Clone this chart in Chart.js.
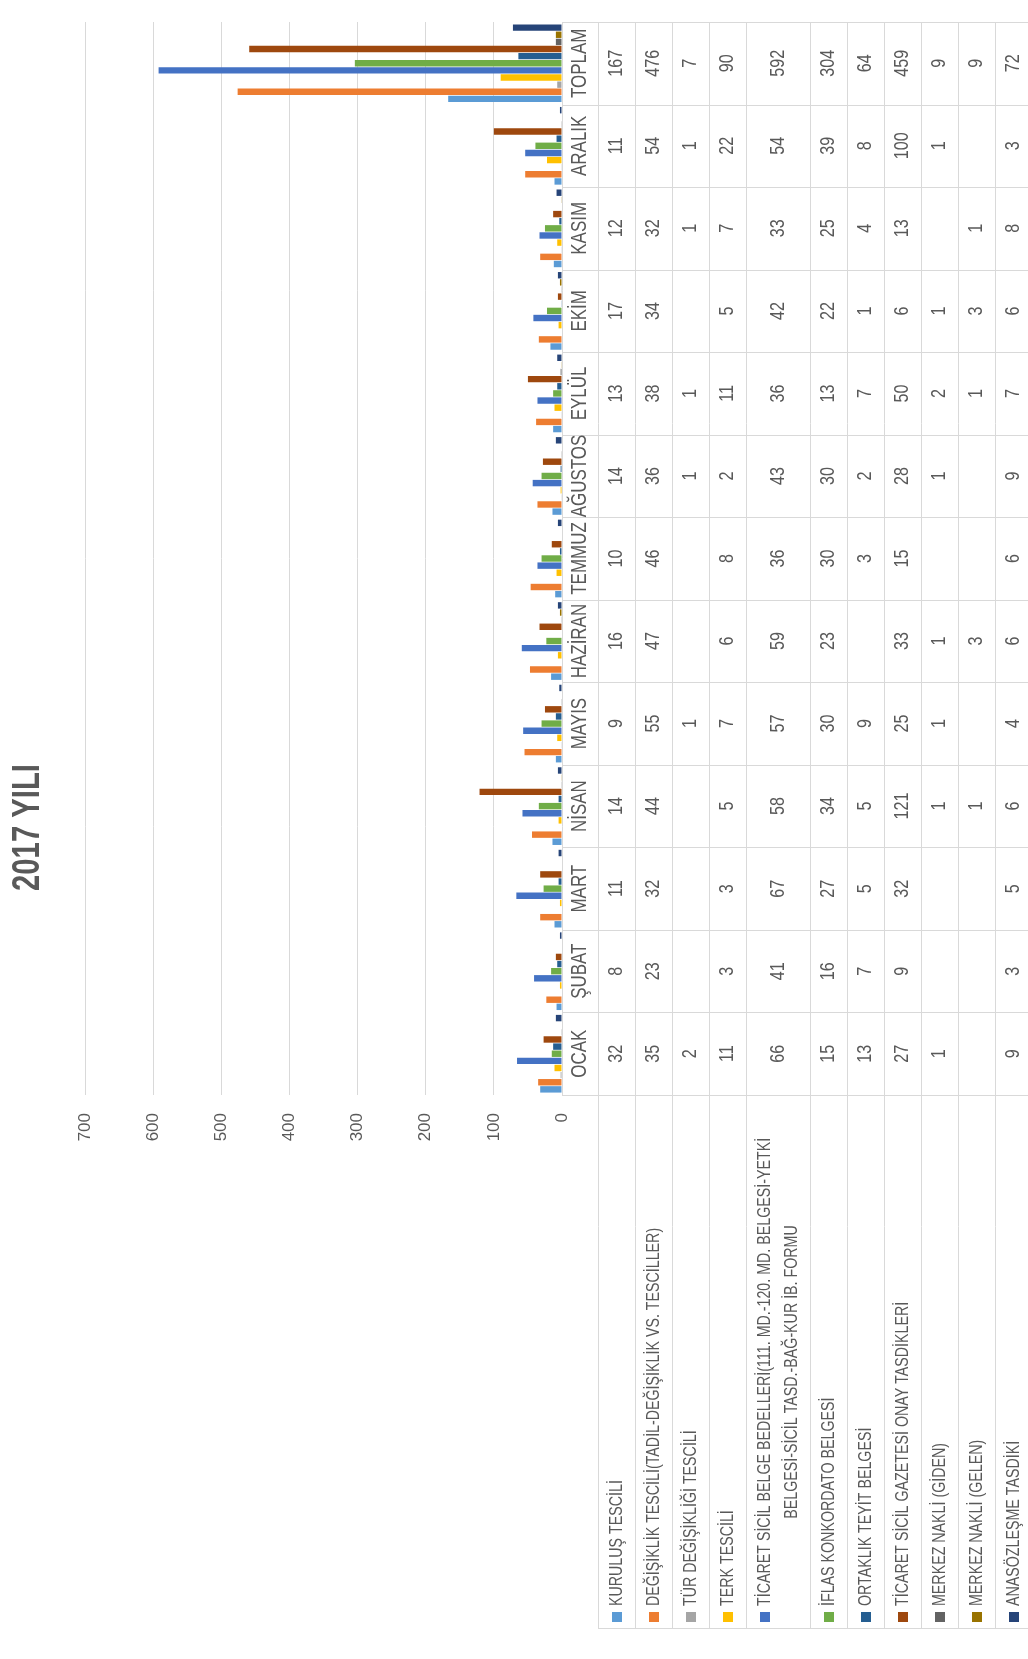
<!DOCTYPE html>
<html>
<head>
<meta charset="utf-8">
<script src="https://cdn.jsdelivr.net/npm/chart.js@4.4.0/dist/chart.umd.min.js"></script>
<style>
html,body{margin:0;padding:0;background:#fff;}
#wrap{width:1028px;height:1659px;position:relative;overflow:hidden;}
</style>
</head>
<body>
<div id="wrap"><canvas id="c"></canvas></div>
<script>
const titleText = '2017 YILI';
const categories = ['OCAK','ŞUBAT','MART','NİSAN','MAYIS','HAZİRAN','TEMMUZ','AĞUSTOS','EYLÜL','EKİM','KASIM','ARALIK','TOPLAM'];
const seriesNames = [
  ['KURULUŞ TESCİLİ'],
  ['DEĞİŞİKLİK TESCİLİ(TADİL-DEĞİŞİKLİK VS. TESCİLLER)'],
  ['TÜR DEĞİŞİKLİĞİ TESCİLİ'],
  ['TERK TESCİLİ'],
  ['TİCARET SİCİL BELGE BEDELLERİ(111. MD.-120. MD. BELGESİ-YETKİ', 'BELGESİ-SİCİL TASD.-BAĞ-KUR İB. FORMU'],
  ['İFLAS KONKORDATO BELGESİ'],
  ['ORTAKLIK TEYİT BELGESİ'],
  ['TİCARET SİCİL GAZETESİ ONAY TASDİKLERİ'],
  ['MERKEZ NAKLİ (GİDEN)'],
  ['MERKEZ NAKLİ (GELEN)'],
  ['ANASÖZLEŞME TASDİKİ']
];
const kurulusTescili      = [32, 8, 11, 14, 9, 16, 10, 14, 13, 17, 12, 11, 167];
const degisiklikTescili   = [35, 23, 32, 44, 55, 47, 46, 36, 38, 34, 32, 54, 476];
const turDegisikligi      = [2, null, null, null, 1, null, null, 1, 1, null, 1, 1, 7];
const terkTescili         = [11, 3, 3, 5, 7, 6, 8, 2, 11, 5, 7, 22, 90];
const sicilBelgeBedelleri = [66, 41, 67, 58, 57, 59, 36, 43, 36, 42, 33, 54, 592];
const iflasKonkordato     = [15, 16, 27, 34, 30, 23, 30, 30, 13, 22, 25, 39, 304];
const ortaklikTeyit       = [13, 7, 5, 5, 9, null, 3, 2, 7, 1, 4, 8, 64];
const gazeteOnayTasdik    = [27, 9, 32, 121, 25, 33, 15, 28, 50, 6, 13, 100, 459];
const merkezNakliGiden    = [1, null, null, 1, 1, 1, null, 1, 2, 1, null, 1, 9];
const merkezNakliGelen    = [null, null, null, 1, null, 3, null, null, 1, 3, 1, null, 9];
const anasozlesmeTasdiki  = [9, 3, 5, 6, 4, 6, 6, 9, 7, 6, 8, 3, 72];
const seriesValues = [kurulusTescili, degisiklikTescili, turDegisikligi, terkTescili, sicilBelgeBedelleri,
  iflasKonkordato, ortaklikTeyit, gazeteOnayTasdik, merkezNakliGiden, merkezNakliGelen, anasozlesmeTasdiki];
const seriesColors = ['#5B9BD5','#ED7D31','#A5A5A5','#FFC000','#4472C4','#70AD47','#255E91','#9E480E','#636363','#997300','#264478'];

const FONT = "'Liberation Sans', Arial, sans-serif";
const TEXT = '#595959';
const LINE = '#D9D9D9';
const COMP = 0.77;

function rotText(ctx, text, x, y, size, align, bold) {
  ctx.save();
  ctx.translate(x, y);
  ctx.rotate(-Math.PI / 2);
  ctx.scale(COMP, 1);
  ctx.font = (bold ? 'bold ' : '') + size + 'px ' + FONT;
  ctx.fillStyle = TEXT;
  ctx.textAlign = align;
  ctx.textBaseline = 'middle';
  ctx.fillText(text, 0, 0);
  ctx.restore();
}

const titlePlugin = {
  id: 'rotTitle',
  afterDraw(chart) {
    rotText(chart.ctx, titleText, 29, chart.height / 2 - 2, 38, 'center', true);
  }
};

const tablePlugin = {
  id: 'dataTable',
  afterDraw(chart) {
    const ctx = chart.ctx;
    const area = chart.chartArea;
    const ys = chart.scales.y;
    const W = chart.width;
    const centers = categories.map((_, i) => ys.getPixelForValue(i));
    const half = Math.abs(centers[1] - centers[0]) / 2;
    const x0 = area.right;
    const labelCol = 36;
    const colStart = x0 + labelCol;
    const headerBottom = chart.height - 31;
    const widths = seriesNames.map(l => 37 + (l.length - 1) * 27);
    const edges = [colStart];
    widths.forEach(w => edges.push(edges[edges.length - 1] + w));

    ctx.save();
    ctx.strokeStyle = LINE;
    ctx.lineWidth = 1;
    ctx.beginPath();
    const bounds = [];
    centers.forEach(c => { bounds.push(c - half); bounds.push(c + half); });
    const uniq = [...new Set(bounds.map(b => Math.round(b)))];
    uniq.forEach(b => { ctx.moveTo(x0, b + 0.5); ctx.lineTo(W, b + 0.5); });
    ctx.moveTo(colStart, headerBottom + 0.5); ctx.lineTo(W, headerBottom + 0.5);
    edges.forEach(e => { ctx.moveTo(Math.round(e) + 0.5, area.top); ctx.lineTo(Math.round(e) + 0.5, headerBottom); });
    ctx.stroke();
    ctx.restore();

    centers.forEach((c, i) => rotText(ctx, categories[i], x0 + labelCol / 2, c, 22, 'center'));
    seriesValues.forEach((vals, s) => {
      const cx = (edges[s] + edges[s + 1]) / 2;
      vals.forEach((v, i) => {
        if (v !== null && v !== undefined) rotText(ctx, String(v), cx, centers[i], 21, 'center');
      });
    });
    const lineH = 27;
    seriesNames.forEach((lines, s) => {
      const cx = (edges[s] + edges[s + 1]) / 2;
      const L = lines.length;
      const firstX = cx - (L - 1) * lineH / 2;
      ctx.save();
      ctx.fillStyle = seriesColors[s];
      ctx.fillRect(Math.round(firstX - 5), headerBottom - 16, 10, 10);
      ctx.restore();
      const startY = headerBottom - 22;
      rotText(ctx, lines[0], firstX, startY, 18.5, 'left');
      if (L > 1) {
        ctx.save();
        ctx.font = '18.5px ' + FONT;
        const w0 = ctx.measureText(lines[0]).width * COMP;
        ctx.restore();
        const midY = startY - w0 / 2;
        for (let j = 1; j < L; j++) {
          rotText(ctx, lines[j], firstX + j * lineH, midY, 18.5, 'center');
        }
      }
    });
  }
};

Chart.defaults.font.family = FONT;
Chart.defaults.color = TEXT;

// datasets listed last-to-first so that the first series sits at the bottom of each group
const datasets = seriesValues.map((vals, s) => ({
  label: seriesNames[s].join(' '),
  data: vals,
  backgroundColor: seriesColors[s],
  borderWidth: 0,
  categoryPercentage: 0.95,
  barPercentage: 0.9
})).reverse();

new Chart(document.getElementById('c'), {
  type: 'bar',
  data: { labels: categories, datasets: datasets },
  options: {
    indexAxis: 'y',
    responsive: true,
    maintainAspectRatio: false,
    animation: false,
    devicePixelRatio: 1,
    layout: { padding: { left: 85, right: 466, top: 22, bottom: 0 } },
    plugins: { legend: { display: false }, title: { display: false }, tooltip: { enabled: false } },
    scales: {
      x: {
        reverse: true,
        min: 0, max: 700,
        ticks: { stepSize: 100, minRotation: 90, maxRotation: 90, autoSkip: false, padding: 18, font: { size: 17 }, color: TEXT },
        grid: { color: LINE, drawTicks: false },
        border: { display: false },
        afterFit(scale) { scale.height = 564; }
      },
      y: {
        display: false,
        reverse: true
      }
    }
  },
  plugins: [titlePlugin, tablePlugin]
});
</script>
</body>
</html>
